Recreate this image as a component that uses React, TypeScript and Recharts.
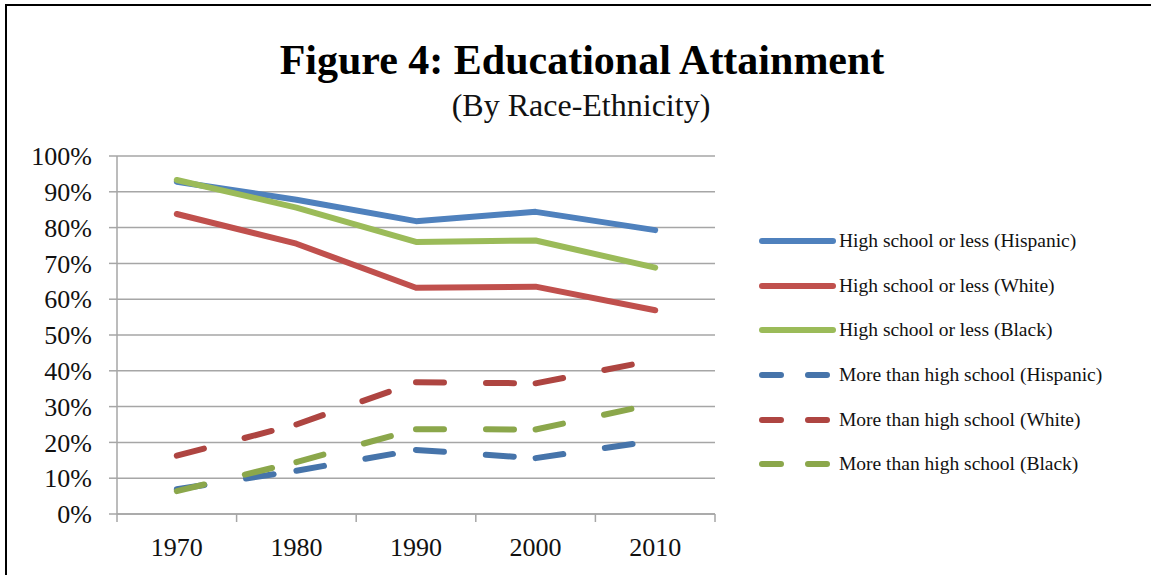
import { LineChart, Line, XAxis, YAxis, CartesianGrid } from 'recharts';

const years = [1970, 1980, 1990, 2000, 2010];
const hsHispanic = [92.8, 87.8, 81.8, 84.4, 79.3];
const hsWhite = [83.8, 75.5, 63.2, 63.5, 56.9];
const hsBlack = [93.3, 85.6, 76.0, 76.4, 68.8];
const moreHispanic = [6.9, 12.1, 17.9, 15.6, 20.5];
const moreWhite = [16.3, 25.0, 36.8, 36.5, 43.0];
const moreBlack = [6.4, 14.5, 23.7, 23.6, 30.8];

const yTicks = [0, 10, 20, 30, 40, 50, 60, 70, 80, 90, 100];
const bandEdges = [1965, 1975, 1985, 1995, 2005, 2015];

const series = [
  { key: 'hsHispanic', name: 'High school or less (Hispanic)', color: '#4F81BD', dashed: false, values: hsHispanic },
  { key: 'hsWhite', name: 'High school or less (White)', color: '#C0504D', dashed: false, values: hsWhite },
  { key: 'hsBlack', name: 'High school or less (Black)', color: '#9BBB59', dashed: false, values: hsBlack },
  { key: 'moreHispanic', name: 'More than high school (Hispanic)', color: '#4674AA', dashed: true, values: moreHispanic },
  { key: 'moreWhite', name: 'More than high school (White)', color: '#AE4541', dashed: true, values: moreWhite },
  { key: 'moreBlack', name: 'More than high school (Black)', color: '#8BA74B', dashed: true, values: moreBlack },
];

const data = years.map((year, i) => ({
  year,
  hsHispanic: hsHispanic[i],
  hsWhite: hsWhite[i],
  hsBlack: hsBlack[i],
  moreHispanic: moreHispanic[i],
  moreWhite: moreWhite[i],
  moreBlack: moreBlack[i],
}));

// Excel restarts the dash pattern at every point, so dashed series are drawn segment by segment
const segments = (values: number[]) =>
  years.slice(0, -1).map((year, i) => [
    { year, v: values[i] },
    { year: years[i + 1], v: values[i + 1] },
  ]);

const FONT = '"Liberation Serif", "Times New Roman", serif';
const GRID = '#A6A6A6';

function LegendBox() {
  return (
    <div style={{ position: 'absolute', left: 752, top: 213, fontFamily: FONT, fontSize: 19.5, color: '#111' }}>
      {series.map((s) => (
        <div key={s.key} style={{ display: 'flex', alignItems: 'center', height: 44.6 }}>
          <svg width={80} height={10} style={{ flex: 'none' }}>
            <line
              x1={3}
              x2={74}
              y1={5}
              y2={5}
              stroke={s.color}
              strokeWidth={6}
              strokeLinecap="round"
              strokeDasharray={s.dashed ? '19 27' : undefined}
            />
          </svg>
          <span style={{ whiteSpace: 'nowrap' }}>{s.name}</span>
        </div>
      ))}
    </div>
  );
}

export default function App() {
  return (
    <div
      style={{
        position: 'absolute',
        left: 5,
        top: 4,
        width: 1146,
        height: 571,
        borderLeft: '2px solid #000',
        borderTop: '2px solid #000',
        overflow: 'hidden',
        background: '#fff',
        fontFamily: FONT,
      }}
    >
      <div
        style={{
          position: 'absolute',
          left: 0,
          width: 1150,
          top: 33,
          textAlign: 'center',
          fontSize: 42,
          fontWeight: 'bold',
          lineHeight: 1,
          color: '#000',
        }}
      >
        Figure 4: Educational Attainment
      </div>
      <div
        style={{
          position: 'absolute',
          left: 0,
          width: 1148,
          top: 83,
          textAlign: 'center',
          fontSize: 32,
          lineHeight: 1,
          color: '#111',
        }}
      >
        (By Race-Ethnicity)
      </div>
      <LineChart
        width={1144}
        height={568}
        data={data}
        margin={{ top: 150, right: 436, left: 0, bottom: 0 }}
      >
        <CartesianGrid vertical={false} stroke={GRID} strokeWidth={1.5} />
        <XAxis
          xAxisId="edges"
          dataKey="year"
          type="number"
          domain={[1965, 2015]}
          ticks={bandEdges}
          tickFormatter={() => ''}
          tickSize={8}
          height={8}
          stroke={GRID}
          strokeWidth={1.5}
        />
        <XAxis
          xAxisId="labels"
          dataKey="year"
          type="number"
          domain={[1965, 2015]}
          ticks={years}
          interval={0}
          axisLine={false}
          tickLine={false}
          tickMargin={10}
          height={52}
          tick={{ fill: '#111', fontSize: 26, fontFamily: FONT }}
        />
        <YAxis
          domain={[0, 100]}
          ticks={yTicks}
          tickFormatter={(v: number) => `${v}%`}
          width={110}
          tickSize={8}
          tickMargin={17}
          stroke={GRID}
          strokeWidth={1.5}
          tick={{ fill: '#111', fontSize: 26, fontFamily: FONT }}
          interval={0}
        />
        {series
          .filter((s) => !s.dashed)
          .map((s) => (
            <Line
              key={s.key}
              xAxisId="edges"
              type="linear"
              dataKey={s.key}
              name={s.name}
              stroke={s.color}
              strokeWidth={6}
              strokeLinecap="round"
              strokeLinejoin="round"
              dot={false}
              activeDot={false}
              isAnimationActive={false}
            />
          ))}
        {series
          .filter((s) => s.dashed)
          .flatMap((s) =>
            segments(s.values).map((seg, i) => (
              <Line
                key={`${s.key}-${i}`}
                xAxisId="edges"
                data={seg}
                type="linear"
                dataKey="v"
                name={s.name}
                stroke={s.color}
                strokeWidth={6}
                strokeLinecap="round"
                strokeDasharray="28 42"
                dot={false}
                activeDot={false}
                isAnimationActive={false}
              />
            ))
          )}
      </LineChart>
      <LegendBox />
    </div>
  );
}
